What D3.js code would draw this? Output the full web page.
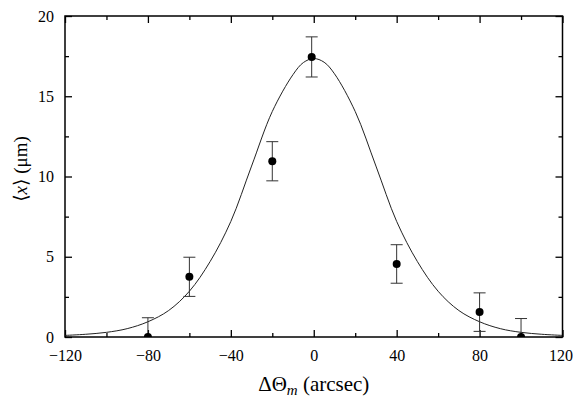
<!DOCTYPE html>
<html>
<head>
<meta charset="utf-8">
<script src="https://cdnjs.cloudflare.com/ajax/libs/d3/7.8.5/d3.min.js"></script>
<style>
body{margin:0;background:#fff;}
</style>
</head>
<body>
<svg id="chart" width="573" height="397"></svg>
<script>
// measured points with error bars
var angle=[-80,-60,-20,-1,40,80,100];
var meanX=[0,3.75,10.95,17.45,4.55,1.55,0];
var errX=[1.2,1.22,1.22,1.25,1.2,1.2,1.15];

// fitted curve
var fitAngle=[-120,-110,-100,-90,-80,-70,-60,-50,-40,-30,-20,-10,-5,0,5,10,20,30,40,50,60,70,80,90,100,110,120];
var fitX=[0.1,0.17,0.29,0.52,0.95,1.65,2.85,4.7,7.2,10.65,14.05,16.35,17.1,17.35,17.12,16.4,14.05,10.65,7.2,4.7,2.85,1.65,0.95,0.52,0.29,0.17,0.1];

var xTicks=[-120,-80,-40,0,40,80,120];
var xMinor=[-100,-60,-20,20,60,100];
var yTicks=[0,5,10,15,20];
var yMinor=[2.5,7.5,12.5,17.5];

var padL=65,padR=562.5,padT=16,padB=337;
var serif="'Liberation Serif','Times New Roman',Times,'DejaVu Serif',serif";
var svg=d3.select("#chart");

var x=d3.scaleLinear().domain([-120,120]).range([padL,padR]);
var y=d3.scaleLinear().domain([0,20]).range([padB,padT]);

function fmt(d){
    return d<0?"\u2212"+Math.abs(d):String(d);
}

svg.append("defs").append("clipPath").attr("id","plot")
    .append("rect").attr("x",padL).attr("y",padT).attr("width",padR-padL).attr("height",padB-padT);

// ticks, all pointing inward
function drawAxis(axis,tr,labels){
    var g=svg.append("g").attr("transform",tr).call(axis);
    g.attr("font-family",serif).attr("font-size",16);
    g.select(".domain").remove();
    g.selectAll(".tick line").attr("stroke","#000").attr("stroke-width",1.3);
    g.selectAll("text").attr("fill","#000");
    if(!labels){
        g.selectAll("text").remove();
    }
    return g;
}
var xa=drawAxis(d3.axisBottom(x).tickValues(xTicks).tickSize(-7).tickPadding(13).tickFormat(fmt),"translate(0,"+padB+")",true);
xa.selectAll(".tick text").filter(function(d){return d===120;}).attr("x",-2);
drawAxis(d3.axisBottom(x).tickValues(xMinor).tickSize(-4),"translate(0,"+padB+")",false);
drawAxis(d3.axisTop(x).tickValues(xTicks).tickSize(-7),"translate(0,"+padT+")",false);
drawAxis(d3.axisTop(x).tickValues(xMinor).tickSize(-4),"translate(0,"+padT+")",false);
drawAxis(d3.axisLeft(y).tickValues(yTicks).tickSize(-7).tickPadding(11),"translate("+padL+",0)",true);
drawAxis(d3.axisLeft(y).tickValues(yMinor).tickSize(-4),"translate("+padL+",0)",false);
drawAxis(d3.axisRight(y).tickValues(yTicks).tickSize(-7),"translate("+padR+",0)",false);
drawAxis(d3.axisRight(y).tickValues(yMinor).tickSize(-4),"translate("+padR+",0)",false);

svg.append("rect")
    .attr("x",padL).attr("y",padT).attr("width",padR-padL).attr("height",padB-padT)
    .attr("fill","none").attr("stroke","#000").attr("stroke-width",1.5);

var plot=svg.append("g").attr("clip-path","url(#plot)");

var line=d3.line()
    .x(function(d,i){return x(fitAngle[i]);})
    .y(function(d){return y(d);})
    .curve(d3.curveCatmullRom);
plot.append("path").datum(fitX)
    .attr("d",line).attr("fill","none").attr("stroke","#222").attr("stroke-width",1);

// error bars
var capW=6;
var bars=plot.selectAll(".err").data(angle).enter().append("g").attr("class","err")
    .attr("stroke","#333").attr("stroke-width",1);
bars.append("line")
    .attr("x1",function(d){return x(d);}).attr("x2",function(d){return x(d);})
    .attr("y1",function(d,i){return y(meanX[i]+errX[i]);})
    .attr("y2",function(d,i){return y(meanX[i]-errX[i]);});
bars.append("line")
    .attr("x1",function(d){return x(d)-capW;}).attr("x2",function(d){return x(d)+capW;})
    .attr("y1",function(d,i){return y(meanX[i]+errX[i]);})
    .attr("y2",function(d,i){return y(meanX[i]+errX[i]);});
bars.append("line")
    .attr("x1",function(d){return x(d)-capW;}).attr("x2",function(d){return x(d)+capW;})
    .attr("y1",function(d,i){return y(meanX[i]-errX[i]);})
    .attr("y2",function(d,i){return y(meanX[i]-errX[i]);});

plot.selectAll(".pt").data(angle).enter().append("circle").attr("class","pt")
    .attr("cx",function(d){return x(d);})
    .attr("cy",function(d,i){return y(meanX[i]);})
    .attr("r",4).attr("fill","#000");

// axis titles
var xt=svg.append("text").attr("x",(padL+padR)/2).attr("y",391)
    .attr("text-anchor","middle").attr("font-size",21).attr("font-family",serif);
xt.append("tspan").text("\u0394\u0398");
xt.append("tspan").attr("font-style","italic").attr("font-size",15).attr("dy",4).text("m");
xt.append("tspan").attr("dy",-4).text(" (arcsec)");

var yt=svg.append("text").attr("transform","translate(27,169) rotate(-90)")
    .attr("text-anchor","middle").attr("font-size",19).attr("font-family",serif);
yt.append("tspan").text("\u27E8");
yt.append("tspan").attr("font-style","italic").text("x");
yt.append("tspan").text("\u27E9 (\u03BCm)");
</script>
</body>
</html>
